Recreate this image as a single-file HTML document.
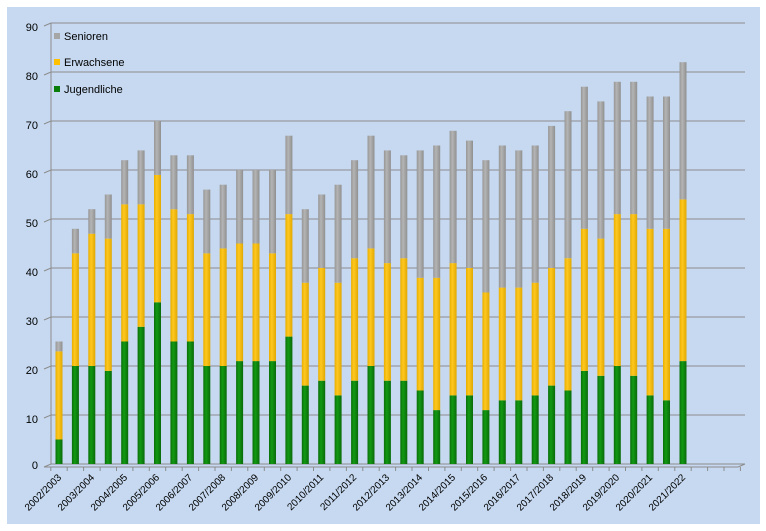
<!DOCTYPE html>
<html><head><meta charset="utf-8"><style>
html,body{margin:0;padding:0;background:#fff;}
svg{display:block;font-family:"Liberation Sans",sans-serif;}
</style></head><body>
<svg width="766" height="531" viewBox="0 0 766 531" xmlns="http://www.w3.org/2000/svg">
<defs>
<linearGradient id="g" x1="0" x2="1"><stop offset="0" stop-color="#0b6e0b"/><stop offset="0.4" stop-color="#129a12"/><stop offset="1" stop-color="#0a6a0a"/></linearGradient>
<linearGradient id="y" x1="0" x2="1"><stop offset="0" stop-color="#e8ae00"/><stop offset="0.4" stop-color="#ffc820"/><stop offset="1" stop-color="#e0a800"/></linearGradient>
<linearGradient id="s" x1="0" x2="1"><stop offset="0" stop-color="#969696"/><stop offset="0.4" stop-color="#b4b4b4"/><stop offset="1" stop-color="#909090"/></linearGradient>
</defs>
<rect x="7" y="7" width="753" height="517" fill="#c6d9f0"/>
<g stroke="#8c8c8c" stroke-width="1" fill="none">
<path d="M44 467 L51 464 L745 464 M44 418 L51 415 L745 415 M44 369 L51 366 L745 366 M44 320 L51 317 L745 317 M44 271 L51 268 L745 268 M44 222 L51 219 L745 219 M44 173 L51 170 L745 170 M44 124 L51 121 L745 121 M44 75 L51 72 L745 72 M44 26 L51 23 L745 23"/>
<path d="M51 23 L51 464 M44 467 L738 467 L745 464"/>
<path d="M50.8 467v4M67.2 467v4M83.6 467v4M100.1 467v4M116.5 467v4M132.9 467v4M149.3 467v4M165.7 467v4M182.2 467v4M198.6 467v4M215 467v4M231.4 467v4M247.8 467v4M264.3 467v4M280.7 467v4M297.1 467v4M313.5 467v4M329.9 467v4M346.4 467v4M362.8 467v4M379.2 467v4M395.6 467v4M412 467v4M428.5 467v4M444.9 467v4M461.3 467v4M477.7 467v4M494.1 467v4M510.6 467v4M527 467v4M543.4 467v4M559.8 467v4M576.2 467v4M592.7 467v4M609.1 467v4M625.5 467v4M641.9 467v4M658.3 467v4M674.8 467v4M691.2 467v4M707.6 467v4M724 467v4M740.4 467v4"/>
</g>
<g transform="translate(0,464) scale(1,-4.9)">
<g fill="url(#g)">
<rect x="55.5" y="0" width="7" height="5"/><rect x="71.9" y="0" width="7" height="20"/><rect x="88.3" y="0" width="7" height="20"/><rect x="104.8" y="0" width="7" height="19"/><rect x="121.2" y="0" width="7" height="25"/><rect x="137.6" y="0" width="7" height="28"/><rect x="154" y="0" width="7" height="33"/><rect x="170.4" y="0" width="7" height="25"/><rect x="186.9" y="0" width="7" height="25"/><rect x="203.3" y="0" width="7" height="20"/><rect x="219.7" y="0" width="7" height="20"/><rect x="236.1" y="0" width="7" height="21"/><rect x="252.5" y="0" width="7" height="21"/><rect x="269" y="0" width="7" height="21"/><rect x="285.4" y="0" width="7" height="26"/><rect x="301.8" y="0" width="7" height="16"/><rect x="318.2" y="0" width="7" height="17"/><rect x="334.6" y="0" width="7" height="14"/><rect x="351.1" y="0" width="7" height="17"/><rect x="367.5" y="0" width="7" height="20"/><rect x="383.9" y="0" width="7" height="17"/><rect x="400.3" y="0" width="7" height="17"/><rect x="416.7" y="0" width="7" height="15"/><rect x="433.2" y="0" width="7" height="11"/><rect x="449.6" y="0" width="7" height="14"/><rect x="466" y="0" width="7" height="14"/><rect x="482.4" y="0" width="7" height="11"/><rect x="498.8" y="0" width="7" height="13"/><rect x="515.3" y="0" width="7" height="13"/><rect x="531.7" y="0" width="7" height="14"/><rect x="548.1" y="0" width="7" height="16"/><rect x="564.5" y="0" width="7" height="15"/><rect x="580.9" y="0" width="7" height="19"/><rect x="597.4" y="0" width="7" height="18"/><rect x="613.8" y="0" width="7" height="20"/><rect x="630.2" y="0" width="7" height="18"/><rect x="646.6" y="0" width="7" height="14"/><rect x="663" y="0" width="7" height="13"/><rect x="679.5" y="0" width="7" height="21"/>
</g>
<g fill="url(#y)">
<rect x="55.5" y="5" width="7" height="18"/><rect x="71.9" y="20" width="7" height="23"/><rect x="88.3" y="20" width="7" height="27"/><rect x="104.8" y="19" width="7" height="27"/><rect x="121.2" y="25" width="7" height="28"/><rect x="137.6" y="28" width="7" height="25"/><rect x="154" y="33" width="7" height="26"/><rect x="170.4" y="25" width="7" height="27"/><rect x="186.9" y="25" width="7" height="26"/><rect x="203.3" y="20" width="7" height="23"/><rect x="219.7" y="20" width="7" height="24"/><rect x="236.1" y="21" width="7" height="24"/><rect x="252.5" y="21" width="7" height="24"/><rect x="269" y="21" width="7" height="22"/><rect x="285.4" y="26" width="7" height="25"/><rect x="301.8" y="16" width="7" height="21"/><rect x="318.2" y="17" width="7" height="23"/><rect x="334.6" y="14" width="7" height="23"/><rect x="351.1" y="17" width="7" height="25"/><rect x="367.5" y="20" width="7" height="24"/><rect x="383.9" y="17" width="7" height="24"/><rect x="400.3" y="17" width="7" height="25"/><rect x="416.7" y="15" width="7" height="23"/><rect x="433.2" y="11" width="7" height="27"/><rect x="449.6" y="14" width="7" height="27"/><rect x="466" y="14" width="7" height="26"/><rect x="482.4" y="11" width="7" height="24"/><rect x="498.8" y="13" width="7" height="23"/><rect x="515.3" y="13" width="7" height="23"/><rect x="531.7" y="14" width="7" height="23"/><rect x="548.1" y="16" width="7" height="24"/><rect x="564.5" y="15" width="7" height="27"/><rect x="580.9" y="19" width="7" height="29"/><rect x="597.4" y="18" width="7" height="28"/><rect x="613.8" y="20" width="7" height="31"/><rect x="630.2" y="18" width="7" height="33"/><rect x="646.6" y="14" width="7" height="34"/><rect x="663" y="13" width="7" height="35"/><rect x="679.5" y="21" width="7" height="33"/>
</g>
<g fill="url(#s)">
<rect x="55.5" y="23" width="7" height="2"/><rect x="71.9" y="43" width="7" height="5"/><rect x="88.3" y="47" width="7" height="5"/><rect x="104.8" y="46" width="7" height="9"/><rect x="121.2" y="53" width="7" height="9"/><rect x="137.6" y="53" width="7" height="11"/><rect x="154" y="59" width="7" height="11"/><rect x="170.4" y="52" width="7" height="11"/><rect x="186.9" y="51" width="7" height="12"/><rect x="203.3" y="43" width="7" height="13"/><rect x="219.7" y="44" width="7" height="13"/><rect x="236.1" y="45" width="7" height="15"/><rect x="252.5" y="45" width="7" height="15"/><rect x="269" y="43" width="7" height="17"/><rect x="285.4" y="51" width="7" height="16"/><rect x="301.8" y="37" width="7" height="15"/><rect x="318.2" y="40" width="7" height="15"/><rect x="334.6" y="37" width="7" height="20"/><rect x="351.1" y="42" width="7" height="20"/><rect x="367.5" y="44" width="7" height="23"/><rect x="383.9" y="41" width="7" height="23"/><rect x="400.3" y="42" width="7" height="21"/><rect x="416.7" y="38" width="7" height="26"/><rect x="433.2" y="38" width="7" height="27"/><rect x="449.6" y="41" width="7" height="27"/><rect x="466" y="40" width="7" height="26"/><rect x="482.4" y="35" width="7" height="27"/><rect x="498.8" y="36" width="7" height="29"/><rect x="515.3" y="36" width="7" height="28"/><rect x="531.7" y="37" width="7" height="28"/><rect x="548.1" y="40" width="7" height="29"/><rect x="564.5" y="42" width="7" height="30"/><rect x="580.9" y="48" width="7" height="29"/><rect x="597.4" y="46" width="7" height="28"/><rect x="613.8" y="51" width="7" height="27"/><rect x="630.2" y="51" width="7" height="27"/><rect x="646.6" y="48" width="7" height="27"/><rect x="663" y="48" width="7" height="27"/><rect x="679.5" y="54" width="7" height="28"/>
</g>
</g>
<g font-size="10" fill="#000" text-anchor="end">
<text x="62" y="478" transform="rotate(-45 62 478)">2002/2003</text>
<text x="95" y="478" transform="rotate(-45 95 478)">2003/2004</text>
<text x="128" y="478" transform="rotate(-45 128 478)">2004/2005</text>
<text x="160" y="478" transform="rotate(-45 160 478)">2005/2006</text>
<text x="193" y="478" transform="rotate(-45 193 478)">2006/2007</text>
<text x="226" y="478" transform="rotate(-45 226 478)">2007/2008</text>
<text x="259" y="478" transform="rotate(-45 259 478)">2008/2009</text>
<text x="292" y="478" transform="rotate(-45 292 478)">2009/2010</text>
<text x="324" y="478" transform="rotate(-45 324 478)">2010/2011</text>
<text x="357" y="478" transform="rotate(-45 357 478)">2011/2012</text>
<text x="390" y="478" transform="rotate(-45 390 478)">2012/2013</text>
<text x="423" y="478" transform="rotate(-45 423 478)">2013/2014</text>
<text x="456" y="478" transform="rotate(-45 456 478)">2014/2015</text>
<text x="488" y="478" transform="rotate(-45 488 478)">2015/2016</text>
<text x="521" y="478" transform="rotate(-45 521 478)">2016/2017</text>
<text x="554" y="478" transform="rotate(-45 554 478)">2017/2018</text>
<text x="587" y="478" transform="rotate(-45 587 478)">2018/2019</text>
<text x="620" y="478" transform="rotate(-45 620 478)">2019/2020</text>
<text x="653" y="478" transform="rotate(-45 653 478)">2020/2021</text>
<text x="686" y="478" transform="rotate(-45 686 478)">2021/2022</text>
</g>
<g font-size="11" fill="#000" text-anchor="end">
<text x="38" y="31">90</text><text x="38" y="80">80</text><text x="38" y="129">70</text><text x="38" y="178">60</text><text x="38" y="227">50</text><text x="38" y="276">40</text><text x="38" y="325">30</text><text x="38" y="374">20</text><text x="38" y="423">10</text><text x="38" y="469">0</text>
</g>
<rect x="54" y="33" width="6" height="6" fill="#a6a6a6"/><text x="64" y="40" font-size="11">Senioren</text>
<rect x="54" y="59" width="6" height="6" fill="#ffc000"/><text x="64" y="66" font-size="11">Erwachsene</text>
<rect x="54" y="86" width="6" height="6" fill="#0a7d0a"/><text x="64" y="93" font-size="11">Jugendliche</text>
</svg>
</body></html>
